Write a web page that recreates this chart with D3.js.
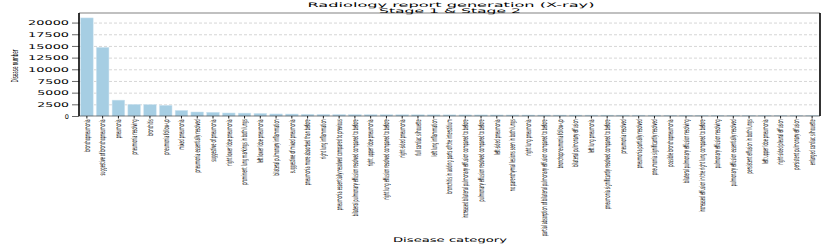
<!DOCTYPE html>
<html>
<head>
<meta charset="utf-8">
<script src="https://cdn.jsdelivr.net/npm/d3@7/dist/d3.min.js"></script>
<style>
body { margin: 0; background: #fff; }
text { font-family: "DejaVu Sans", sans-serif; fill: #000; }
</style>
</head>
<body>
<svg width="830" height="245"></svg>
<script>
// categories, sorted by count
var categories = [
    'bronchopneumonia', 'suggestive of bronchopneumonia', 'pneumonia', 'pneumonia resolving',
    'bronchitis', 'pneumonia follow-up', 'mixed pneumonia', 'pneumonia essentially resolved',
    'suggestive of pneumonia', 'right lower lobe pneumonia', 'prominent lung markings in both lungs',
    'left lower lobe pneumonia', 'bilateral pulmonary inflammation', 'suggestive of mixed pneumonia',
    'pneumonia more absorbed than before', 'right lung inflammation',
    'pneumonia essentially resolved compared to previous',
    'bilateral pulmonary effusion resolved compared to before', 'right upper lobe pneumonia',
    'right lung effusion resolved compared to before', 'right-sided pneumonia',
    'full cardiac silhouette', 'left lung inflammation',
    'bronchitis in adding parts of the interstitium',
    'increased bilateral pulmonary effusion compared to before',
    'pulmonary effusion resolved compared to before', 'left-sided pneumonia',
    'no parenchymal lesions seen in both lungs', 'right lung pneumonia',
    'partial absorption of bilateral pulmonary effusion compared to before',
    'bronchopneumonia follow-up', 'bilateral pulmonary effusion', 'left lung pneumonia',
    'pneumonia significantly resolved compared to before', 'pneumonia resolved',
    'pneumonia partially resolved', 'pneumonia significantly resolved',
    'possible bronchopneumonia', 'bilateral pulmonary effusion resolving',
    'increased effusion in the right lung compared to before', 'pulmonary effusion resolving',
    'pulmonary effusion essentially resolved', 'persistent effusion in both lungs',
    'left upper lobe pneumonia', 'right-sided pleural effusion',
    'persistent pulmonary effusion', 'enlarged cardiac silhouette'
];

var counts = [
    21000, 14700, 3400, 2500, 2450, 2300, 1200, 860, 800, 650,
    620, 560, 440, 420, 380, 350, 330, 310, 300, 290,
    275, 265, 255, 250, 240, 235, 228, 222, 215, 210,
    205, 200, 195, 190, 186, 182, 178, 172, 168, 163,
    158, 154, 150, 146, 142, 138, 132
];

var yTicks = [0, 2500, 5000, 7500, 10000, 12500, 15000, 17500, 20000];

var svg = d3.select('svg');

var plotL = 79, plotR = 820, plotT = 13, plotB = 116;

var x = d3.scaleBand()
    .domain(categories)
    .range([plotL, plotR])
    .paddingInner(0.2)
    .paddingOuter(0.1);

var y = d3.scaleLinear()
    .domain([0, 22050])
    .range([plotB, plotT]);

// dashed grid
svg.append('g')
    .attr('transform', 'translate(' + plotL + ',0)')
    .call(d3.axisLeft(y).tickValues(yTicks.slice(1)).tickSize(-(plotR - plotL)).tickFormat(''))
    .call(function(g){ g.select('.domain').remove(); })
    .selectAll('line')
    .attr('stroke', '#c4c4c4')
    .attr('stroke-width', 0.7)
    .attr('stroke-dasharray', '3,2');

// bars
svg.selectAll('rect.bar')
    .data(counts).enter()
    .append('rect')
    .attr('class', 'bar')
    .attr('x', function(d, i){ return x(categories[i]); })
    .attr('width', x.bandwidth())
    .attr('y', function(d){ return y(d); })
    .attr('height', function(d){ return y(0) - y(d); })
    .attr('fill', '#a6cee3')
    .attr('stroke', '#d2e6f1')
    .attr('stroke-width', 0.5);

// y axis
var yAxis = svg.append('g')
    .attr('transform', 'translate(' + plotL + ',0)')
    .call(d3.axisLeft(y).tickValues(yTicks).tickSize(7).tickPadding(3).tickFormat(d3.format('d')));
yAxis.select('.domain').remove();
yAxis.selectAll('line').attr('stroke', '#000').attr('stroke-width', 0.6);
yAxis.selectAll('text')
    .attr('font-size', 6.5)
    .attr('dy', '0.36em')
    .each(function(){
        var n = this.textContent.length;
        if (n > 1) {
            d3.select(this).attr('textLength', 4.1 + (n - 1) * 9.2).attr('lengthAdjust', 'spacingAndGlyphs');
        }
    });

// x axis
var xAxis = svg.append('g')
    .attr('transform', 'translate(0,' + plotB + ')')
    .call(d3.axisBottom(x).tickSize(2.5));
xAxis.select('.domain').remove();
xAxis.selectAll('line').attr('stroke', '#000').attr('stroke-width', 0.9);
xAxis.selectAll('text')
    .attr('font-size', 8)
    .attr('text-anchor', 'end')
    .attr('x', -8)
    .attr('y', 0)
    .attr('dy', '0.35em')
    .attr('transform', 'rotate(-90) scale(0.42,1)');

// spines
svg.append('line').attr('x1', plotL).attr('x2', plotL).attr('y1', plotT).attr('y2', plotB)
    .attr('stroke', '#000').attr('stroke-width', 1.6);
svg.append('line').attr('x1', plotR).attr('x2', plotR).attr('y1', plotT).attr('y2', plotB)
    .attr('stroke', '#000').attr('stroke-width', 1.6);
svg.append('line').attr('x1', plotL).attr('x2', plotR).attr('y1', plotT).attr('y2', plotT)
    .attr('stroke', '#000').attr('stroke-width', 0.5);
svg.append('line').attr('x1', plotL).attr('x2', plotR).attr('y1', plotB).attr('y2', plotB)
    .attr('stroke', '#000').attr('stroke-width', 0.5);

// titles
svg.append('text')
    .attr('x', 451).attr('y', 6.6)
    .attr('text-anchor', 'middle')
    .attr('font-size', 6.3)
    .attr('textLength', 287).attr('lengthAdjust', 'spacingAndGlyphs')
    .text('Radiology report generation (X-ray)');
svg.append('text')
    .attr('x', 450).attr('y', 12.6)
    .attr('text-anchor', 'middle')
    .attr('font-size', 6.3)
    .attr('textLength', 142).attr('lengthAdjust', 'spacingAndGlyphs')
    .text('Stage 1 & Stage 2');

svg.append('text')
    .attr('x', 450).attr('y', 242)
    .attr('text-anchor', 'middle')
    .attr('font-size', 6.5)
    .attr('textLength', 114).attr('lengthAdjust', 'spacingAndGlyphs')
    .text('Disease category');

svg.append('text')
    .attr('transform', 'translate(18,66) rotate(-90)')
    .attr('text-anchor', 'middle')
    .attr('font-size', 8)
    .attr('textLength', 33).attr('lengthAdjust', 'spacingAndGlyphs')
    .text('Disease number');
</script>
</body>
</html>
